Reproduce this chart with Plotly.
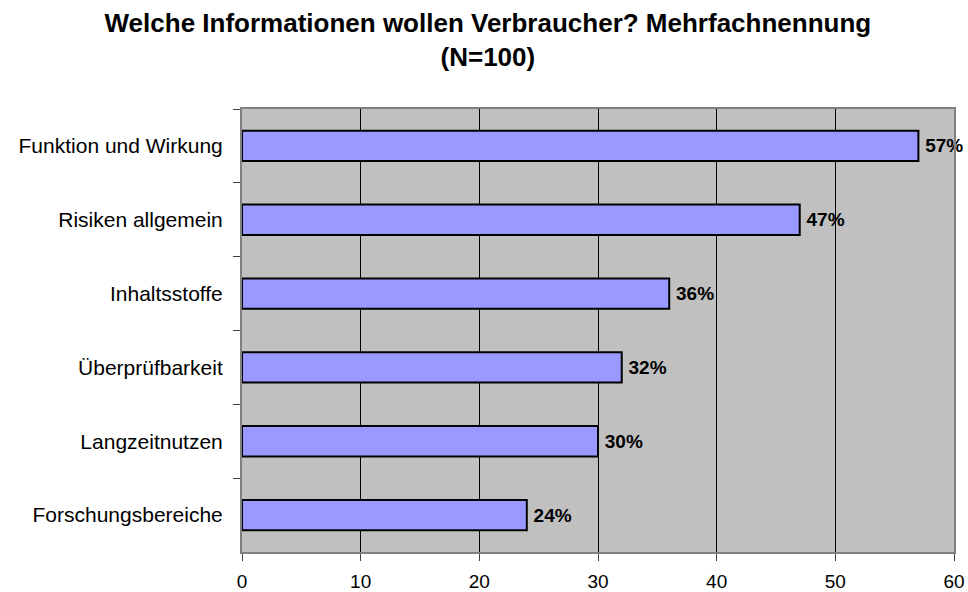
import plotly.graph_objects as go

categories = ["Funktion und Wirkung", "Risiken allgemein", "Inhaltsstoffe",
              "Überprüfbarkeit", "Langzeitnutzen", "Forschungsbereiche"]
values = [57, 47, 36, 32, 30, 24]
x_ticks = [0, 10, 20, 30, 40, 50, 60]

fig = go.Figure(go.Bar(
    x=values, y=categories, orientation="h",
    width=0.41,
    marker=dict(color="#9999FF", line=dict(color="black", width=2)),
    text=[f"\u2009{v}%" for v in values], textposition="outside",
    textfont=dict(family="Liberation Sans, Arial", size=19, color="black", weight="bold"),
    cliponaxis=False,
))

fig.update_layout(
    width=968, height=592,
    margin=dict(l=242, r=14, t=109, b=40),
    paper_bgcolor="white", plot_bgcolor="#C0C0C0",
    font=dict(family="Liberation Sans, Arial", color="black"),
    title=dict(text="<b>Welche Informationen wollen Verbraucher? Mehrfachnennung<br>(N=100)</b>",
               x=0.504, xanchor="center", y=0.946, yanchor="top",
               font=dict(size=26, color="black")),
    showlegend=False,
    xaxis=dict(range=[0, 60], tickvals=x_ticks, showgrid=True, gridcolor="black", gridwidth=1,
               ticks="outside", ticklen=7, tickcolor="#404040", automargin=False,
               showline=True, linecolor="#808080", linewidth=2, mirror=True,
               tickfont=dict(size=19), zeroline=False, ticklabelstandoff=4),
    yaxis=dict(categoryorder="array", categoryarray=categories, autorange="reversed",
               ticks="outside", tickson="boundaries", ticklen=7, tickcolor="#404040",
               showline=True, linecolor="#808080", linewidth=2, mirror=True, automargin=False,
               showgrid=False, tickfont=dict(size=21), ticklabelstandoff=13),
    bargap=0.59,
)

fig.write_html("out.html", config={"displayModeBar": False},
               post_script="document.body.style.margin='0';document.body.style.overflow='hidden';")
